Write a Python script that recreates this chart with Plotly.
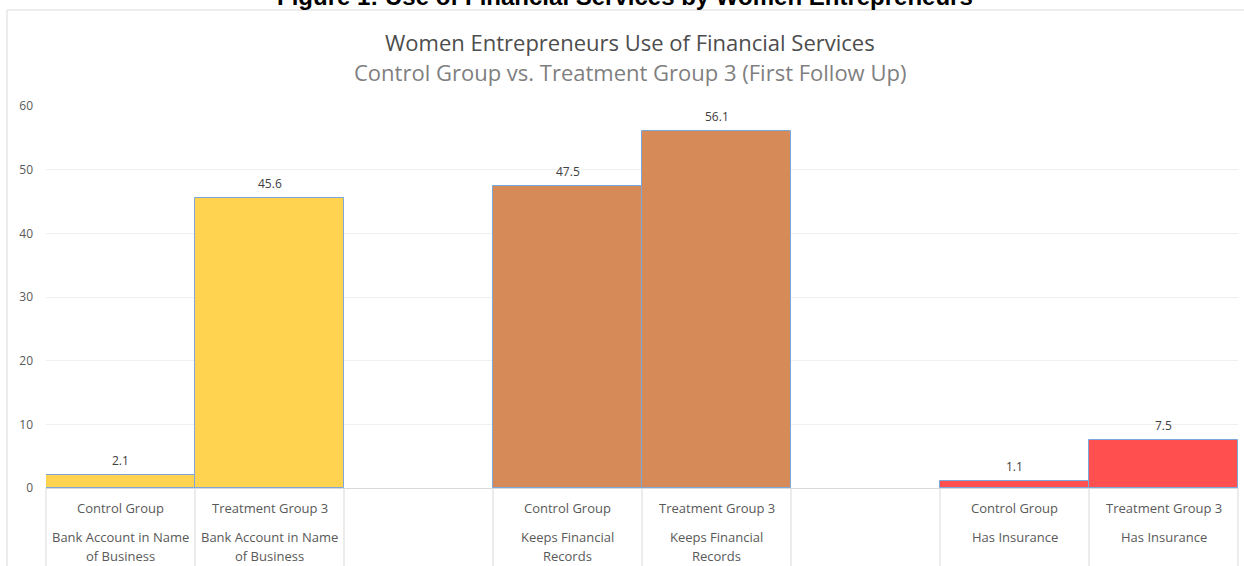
import plotly.graph_objects as go

# ---- data ----
groups = ["Control Group", "Treatment Group 3", "Control Group", "Treatment Group 3", "Control Group", "Treatment Group 3"]
outcome_lines = [["Bank Account in Name", "of Business"], ["Bank Account in Name", "of Business"],
                 ["Keeps Financial", "Records"], ["Keeps Financial", "Records"],
                 ["Has Insurance"], ["Has Insurance"]]
values = [2.1, 45.6, 47.5, 56.1, 1.1, 7.5]
slots = [0, 1, 3, 4, 6, 7]          # category slots (empty slot between outcome groups)
colors = ["#FFD34F", "#FFD34F", "#D58A58", "#D58A58", "#FF4F4F", "#FF4F4F"]
y_ticks = [0, 10, 20, 30, 40, 50, 60]

fig_title = "Figure 1: Use of Financial Services by Women Entrepreneurs"
chart_title = "Women Entrepreneurs Use of Financial Services"
chart_subtitle = "Control Group vs. Treatment Group 3 (First Follow Up)"

W, H = 1244, 566
ML, MR, MT, MB = 46, 6, 106, 78
PW, PH = W - ML - MR, H - MT - MB
XR = [-0.5, 7.5]
FONT = "'Open Sans', sans-serif"

def px_x(px):
    return (px - ML) / PW

def px_y(py):
    return (H - MB - py) / PH

fig = go.Figure()
fig.add_trace(go.Bar(
    x=slots, y=values, width=1,
    marker=dict(color=colors, line=dict(color="#7BA7DA", width=1)),
    hoverinfo="x+y", showlegend=False,
))

ann = []
# value labels
for s, v in zip(slots, values):
    ann.append(dict(x=s, y=v, xref="x", yref="y", text=f"{v:.1f}", showarrow=False,
                    yanchor="bottom", yshift=4, font=dict(size=12, color="#404040", family=FONT)))
# category labels
for s, g, lines in zip(slots, groups, outcome_lines):
    ann.append(dict(x=s, y=0, xref="x", yref="paper", text=g, showarrow=False,
                    yanchor="middle", yshift=-20, font=dict(size=13, color="#595959", family=FONT)))
    for k, ln in enumerate(lines):
        ann.append(dict(x=s, y=0, xref="x", yref="paper", text=ln, showarrow=False,
                        yanchor="middle", yshift=-49 - 19 * k, font=dict(size=13, color="#595959", family=FONT)))
# titles
ann.append(dict(x=px_x(630), y=px_y(42), xref="paper", yref="paper", text=chart_title, showarrow=False,
                xanchor="center", yanchor="middle", font=dict(size=22, color="#4D4D4D", family=FONT)))
ann.append(dict(x=px_x(630), y=px_y(72), xref="paper", yref="paper", text=chart_subtitle, showarrow=False,
                xanchor="center", yanchor="middle", font=dict(size=22, color="#7F7F7F", family=FONT)))
ann.append(dict(x=px_x(625), y=px_y(-3), xref="paper", yref="paper", text="<b>" + fig_title + "</b>", showarrow=False,
                xanchor="center", yanchor="middle", font=dict(size=24, color="#000000", family="Liberation Sans, Arial")))

shapes = []
# separators below the axis at each bar edge
edges = sorted(set([s - 0.5 for s in slots] + [s + 0.5 for s in slots]))
for e in edges:
    xp = (e - XR[0]) / (XR[1] - XR[0])
    shapes.append(dict(type="line", xref="paper", yref="paper", x0=xp, x1=xp, y0=0, y1=px_y(H + 2),
                       line=dict(color="#D9D9D9", width=1)))
# chart frame (left and top)
shapes.append(dict(type="line", xref="paper", yref="paper", x0=px_x(7), x1=px_x(7), y0=px_y(10), y1=px_y(H + 2),
                   line=dict(color="#D9D9D9", width=1)))
shapes.append(dict(type="line", xref="paper", yref="paper", x0=px_x(7), x1=px_x(W + 5), y0=px_y(10), y1=px_y(10),
                   line=dict(color="#D9D9D9", width=1)))

fig.update_layout(
    width=W, height=H,
    margin=dict(l=ML, r=MR, t=MT, b=MB, pad=0),
    paper_bgcolor="white", plot_bgcolor="white",
    bargap=0,
    annotations=ann, shapes=shapes,
    xaxis=dict(range=XR, showticklabels=False, showgrid=False, zeroline=False,
               showline=True, linecolor="#D9D9D9", linewidth=1, fixedrange=True),
    yaxis=dict(range=[0, 60], tickvals=y_ticks, showgrid=True, gridcolor="#EFEFEF", gridwidth=1,
               zeroline=False, showline=False, ticks="", ticklabelstandoff=12,
               tickfont=dict(size=12, color="#595959", family=FONT), fixedrange=True),
)

fig.write_html("out.html")
